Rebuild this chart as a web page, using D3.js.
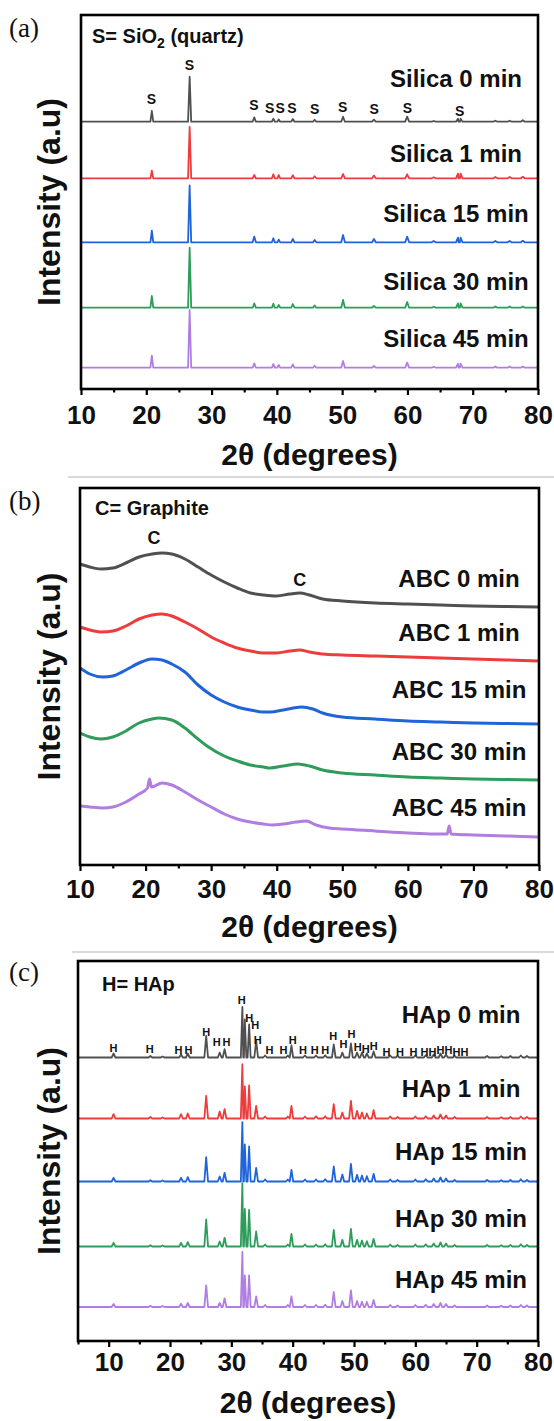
<!DOCTYPE html>
<html>
<head>
<meta charset="utf-8">
<script src="https://cdn.jsdelivr.net/npm/d3@7"></script>
<style>
  body { margin: 0; background: #fff; }
  svg text { font-family: "Liberation Sans", Arial, sans-serif; font-weight: bold; fill: #111; }
</style>
</head>
<body>
<div id="chart"></div>
<script>
// ---------------- data ----------------
const sampleTimes = ["0 min", "1 min", "15 min", "30 min", "45 min"];
const majorTicksA = [10, 20, 30, 40, 50, 60, 70, 80];
const minorTicksA = [15, 25, 35, 45, 55, 65, 75];
const majorTicksC = [10, 20, 30, 40, 50, 60, 70, 80];
const minorTicksC = [5, 15, 25, 35, 45, 55, 65, 75];

// (a) silica: quartz reflections (2θ), half widths and heights per milling time
const silicaPeaks  = [20.85, 26.64, 36.54, 39.46, 40.29, 42.45, 45.79, 50.14, 54.87, 59.96, 64.03, 67.74, 68.14, 73.47, 75.66, 77.67];
const silicaWidths = [0.22, 0.24, 0.25, 0.22, 0.22, 0.25, 0.25, 0.28, 0.28, 0.3, 0.3, 0.3, 0.3, 0.3, 0.3, 0.3];
const silica0  = [10.7, 45, 4.3, 3, 2.3, 2.7, 2, 5, 2, 5, 0.7, 3, 3, 1, 1, 1.5];
const silica1  = [7.7, 51.3, 3.3, 4, 3.3, 3, 2, 4.3, 2.7, 4, 1, 4.7, 4.7, 1.3, 1.3, 1.5];
const silica15 = [11.7, 57, 5.7, 4, 2.7, 3.3, 2.3, 7.3, 3.3, 5.7, 1.3, 4.7, 4.7, 1.3, 1.3, 1.5];
const silica30 = [11.7, 60, 4.3, 4, 2.7, 3.7, 2.3, 7.7, 1.7, 5.7, 1, 4.3, 4.3, 1.3, 1.3, 1.3];
const silica45 = [12, 57.7, 4.3, 3.7, 2.7, 3.3, 2, 6.7, 1.7, 5, 1, 4, 4, 1.3, 1.3, 1.3];
const silicaBase = [267.3, 210.7, 146.7, 81.3, 21.3];
const silicaLabelLevel = [310, 235.7, 175.7, 107.3, 50.7];
const sMarkPos   = [20.8, 26.6, 36.5, 38.9, 40.5, 42.3, 45.8, 50.1, 54.9, 60.0, 68.0];
const sMarkLevel = [289.7, 324, 284, 280.7, 280.7, 280.7, 280, 282.3, 279.7, 281.3, 278.3];

// (b) activated carbon: broad humps, [2θ, intensity]
const abc0 = [[10, 301], [11.5, 298], [13.2, 296], [15, 297], [17, 302], [19, 308], [21, 311], [22.5, 312], [24, 311], [26, 306], [28, 298], [30, 290], [32, 283], [34, 277], [36, 272], [38, 270], [40, 269], [42, 271], [43.5, 272], [45, 270], [47, 266], [50, 264], [55, 262], [60, 261], [65, 260], [70, 259], [75, 258.5], [80, 258]];
const abc1 = [[10, 238], [11.5, 235], [13.3, 233], [15, 234], [17, 239], [19, 246], [21, 250], [22.5, 251], [24, 249], [26, 243], [28, 236], [30, 228], [32, 222], [34, 217], [36, 214], [38, 212], [40, 212], [42, 214], [43.5, 215], [45, 213], [47, 211], [50, 210], [55, 209], [60, 208], [65, 207], [70, 206], [75, 205], [80, 204]];
const abc15 = [[10, 197], [11.5, 191], [13.5, 188], [15, 189], [17, 195], [19, 202], [21, 206], [22.5, 205], [24, 201], [26, 193], [28, 180], [30, 170], [32, 163], [34, 158], [36, 155], [38, 153], [39, 153], [41, 155], [43.8, 158], [45.5, 156], [47, 152], [50, 148], [55, 146], [60, 144], [65, 143], [70, 142], [75, 141.5], [80, 141]];
const abc30 = [[10, 132], [11.5, 128], [13.2, 126], [15, 128], [17, 134], [19, 142], [21, 146], [22, 147], [24, 145], [26, 137], [28, 126], [29.6, 118], [32, 109], [34, 104], [36, 100], [38, 98], [39, 97], [41, 99], [43.2, 101], [45, 99], [47, 95], [50, 92], [55, 90], [60, 88], [65, 87], [70, 86], [75, 85.5], [80, 85]];
const abc45 = [[10, 59], [11.5, 58], [13.5, 57], [15, 58], [17, 63], [19, 71], [20.3, 77], [20.6, 86], [20.9, 78], [22.5, 82], [24, 80], [26, 73], [28, 65], [30, 58], [32, 51], [34, 46], [36, 43], [38, 41], [39.3, 40], [41, 41], [43, 43], [44.5, 44], [46, 40], [48, 37], [50, 36], [55, 34], [60, 32], [64, 31], [66, 31], [66.3, 39], [66.6, 31], [70, 30], [75, 29], [80, 28]];
const abcLabelLevel = [286, 232, 175, 113, 57];
const cMarkPos   = [21.3, 43.5];
const cMarkLevel = [327, 285];

// (c) hydroxyapatite reflections
const hapPeaks  = [10.8, 16.8, 18.8, 21.8, 22.9, 25.9, 28.1, 28.9, 31.8, 32.2, 32.9, 34.05, 35.5, 39.2, 39.8, 42.0, 43.8, 45.3, 46.7, 48.1, 49.5, 50.5, 51.3, 52.1, 53.2, 55.9, 57.1, 60.0, 61.7, 63.0, 64.1, 65.0, 66.4, 71.7, 74.0, 75.5, 77.2, 78.2];
const hapWidths = [0.3, 0.3, 0.3, 0.3, 0.3, 0.3, 0.3, 0.3, 0.25, 0.25, 0.25, 0.3, 0.3, 0.28, 0.28, 0.3, 0.3, 0.3, 0.3, 0.3, 0.3, 0.3, 0.3, 0.3, 0.3, 0.3, 0.3, 0.3, 0.3, 0.3, 0.3, 0.3, 0.3, 0.3, 0.3, 0.3, 0.3, 0.3];
const hap0  = [4, 1.5, 1, 3, 4, 21.7, 5, 8.3, 50.7, 38, 33, 17, 2, 2, 12, 2, 2, 2.3, 13, 5, 14, 5, 5, 4, 6, 2, 1.5, 2, 2.3, 3, 4, 3, 1.5, 1.5, 1.3, 1.5, 2, 1.5];
const hap1  = [4.3, 1.5, 1, 4.3, 5, 22.7, 7, 9.3, 54.3, 32, 33, 12.7, 2, 2, 12.7, 2, 2.3, 2.3, 14.3, 6, 17.7, 7.7, 6, 5, 8.3, 2, 1.5, 2, 2.3, 3, 4, 3, 1.5, 1.5, 1.3, 1.5, 2, 1.5];
const hap15 = [3.7, 1.3, 1, 3.7, 4.3, 24.3, 5, 8.7, 59.3, 37, 35, 13.7, 2, 2, 11.7, 2, 2, 2.3, 15, 7, 17.7, 6.7, 6, 5.3, 7.7, 2, 1.5, 2, 2.3, 3, 4, 3, 1.5, 1.5, 1.3, 1.5, 2.3, 1.5];
const hap30 = [3.7, 1.3, 1, 3.7, 4.3, 27, 5, 8.7, 63.3, 37.7, 36.7, 15, 2, 2, 12.7, 2, 2, 2.3, 16.7, 6.7, 17.7, 6.7, 6, 5.3, 7.7, 2, 1.5, 2, 2.3, 3, 4, 3, 1.5, 1.5, 1.3, 1.5, 2.3, 1.5];
const hap45 = [3, 1.3, 1, 3.3, 4, 21.7, 4, 8.7, 55, 31.7, 31.7, 10.7, 2, 2, 10.7, 2, 2, 2.3, 15, 6, 16.7, 6, 5.3, 5, 7, 2, 1.5, 2, 2.3, 3, 4, 3, 1.5, 1.5, 1.3, 1.5, 2, 1.5];
const hapBase = [283.5, 222.5, 159.5, 94.5, 34];
const hapLabelLevel = [326, 252.7, 189.5, 122.7, 61];
const hMarkPos   = [10.8, 16.7, 21.4, 23.0, 25.9, 27.6, 29.2, 31.7, 32.9, 33.9, 34.3, 36.2, 38.5, 40.0, 41.7, 43.6, 45.3, 46.6, 48.3, 49.6, 50.6, 51.9, 53.2, 55.3, 57.5, 59.7, 61.5, 62.8, 64.1, 65.4, 66.7, 68.0];
const hMarkLevel = [292.9, 291.9, 290.9, 290.9, 308.5, 298.5, 298.5, 340.9, 322.9, 315.9, 300.9, 290.9, 290.9, 300.9, 290.9, 290.9, 290.9, 305.2, 296.9, 306.9, 293.5, 291.9, 295.2, 289.2, 289.2, 289.2, 289.2, 289.2, 290.9, 290.9, 289.2, 289.2];

// ---------------- styles / layout ----------------
const traceColors = ["#505050", "#ee3b3b", "#1f64d8", "#2e9c5a", "#b07ee0"];

const svg = d3.select("#chart")
    .append("svg")
    .attr("width", 554)
    .attr("height", 1421);

// turn a list of peaks into a stick-like polyline sitting on a flat baseline
function peakPoints(peaks, widths, heights, base, domain) {
    const pts = [[domain[0], base], [domain[1], base]];
    peaks.forEach((p, i) => {
        pts.push([p - widths[i], base], [p, base + heights[i]], [p + widths[i], base]);
    });
    return pts.sort((a, b) => a[0] - b[0]);
}

function drawPanel(p) {
    const x = d3.scaleLinear().domain(p.xDomain).range([p.left, p.right]);
    const y = d3.scaleLinear().domain([0, p.yMax]).range([p.bottom, p.top]);
    const g = svg.append("g");

    // traces
    const line = d3.line()
        .x(d => x(d[0]))
        .y(d => y(d[1]))
        .curve(p.curve || d3.curveLinear);

    p.traces.forEach((t, i) => {
        g.append("path")
            .datum(t)
            .attr("fill", "none")
            .attr("stroke", traceColors[i])
            .attr("stroke-width", p.lineWidth)
            .attr("stroke-linejoin", "round")
            .attr("d", line);
    });

    // frame
    g.append("rect")
        .attr("x", p.left)
        .attr("y", p.top)
        .attr("width", p.right - p.left)
        .attr("height", p.bottom - p.top)
        .attr("fill", "none")
        .attr("stroke", "#000")
        .attr("stroke-width", 2.6);

    // x axis, major ticks with labels
    const ax = g.append("g")
        .attr("transform", `translate(0,${p.bottom})`)
        .call(d3.axisBottom(x).tickValues(p.major).tickSize(6).tickPadding(p.tickPad).tickFormat(d3.format("d")));
    ax.select(".domain").remove();
    ax.selectAll("line").attr("stroke-width", 2.2);
    ax.selectAll("text")
        .style("font-size", "26px")
        .attr("fill", "#111");

    // minor ticks
    const mx = g.append("g")
        .attr("transform", `translate(0,${p.bottom})`)
        .call(d3.axisBottom(x).tickValues(p.minor).tickSize(3.5).tickFormat(""));
    mx.select(".domain").remove();
    mx.selectAll("line").attr("stroke-width", 2.2);

    // axis titles
    g.append("text")
        .attr("x", (p.left + p.right) / 2)
        .attr("y", p.bottom + p.titleGap)
        .attr("text-anchor", "middle")
        .style("font-size", "30px")
        .text("2θ (degrees)");

    g.append("text")
        .attr("transform", `translate(60,${(p.top + p.bottom) / 2}) rotate(-90)`)
        .attr("text-anchor", "middle")
        .style("font-size", "32px")
        .text("Intensity (a.u)");

    // panel letter
    g.append("text")
        .attr("x", 9)
        .attr("y", p.letterY)
        .style("font-family", "'Liberation Serif', 'Times New Roman', serif")
        .style("font-weight", "normal")
        .style("font-size", "27px")
        .text(p.letter);

    // phase note
    const note = g.append("text")
        .attr("x", p.noteX)
        .attr("y", p.noteY)
        .style("font-size", "20px");
    p.note.forEach(part => {
        note.append("tspan")
            .attr("dy", part.sub ? 5 : (part.after ? -5 : null))
            .style("font-size", part.sub ? "14px" : null)
            .text(part.t);
    });

    // sample labels
    sampleTimes.forEach((t, i) => {
        g.append("text")
            .attr("x", p.labelX)
            .attr("y", y(p.labelLevel[i]))
            .attr("dy", "0.35em")
            .attr("text-anchor", "middle")
            .style("font-size", "24px")
            .text(p.name + " " + t);
    });

    // peak markers
    p.markPos.forEach((m, i) => {
        g.append("text")
            .attr("x", x(m))
            .attr("y", y(p.markLevel[i]))
            .attr("dy", "0.35em")
            .attr("text-anchor", "middle")
            .style("font-size", p.markSize)
            .text(p.mark);
    });
}

// ---------------- panel (a) ----------------
drawPanel({
    left: 81, right: 538, top: 15, bottom: 389, yMax: 374,
    xDomain: [10, 80], major: majorTicksA, minor: minorTicksA,
    tickPad: 11, titleGap: 76, letter: "(a)", letterY: 37,
    note: [{t: "S= SiO"}, {t: "2", sub: true}, {t: " (quartz)", after: true}], noteX: 92, noteY: 43,
    name: "Silica", labelX: 456, labelLevel: silicaLabelLevel,
    mark: "S", markPos: sMarkPos, markLevel: sMarkLevel, markSize: "14px",
    lineWidth: 1.8,
    traces: [silica0, silica1, silica15, silica30, silica45].map((h, i) =>
        peakPoints(silicaPeaks, silicaWidths, h, silicaBase[i], [10, 80]))
});

// ---------------- panel (b) ----------------
drawPanel({
    left: 80, right: 539, top: 488, bottom: 865, yMax: 377,
    xDomain: [10, 80], major: majorTicksA, minor: minorTicksA,
    tickPad: 9, titleGap: 72, letter: "(b)", letterY: 510,
    note: [{t: "C= Graphite"}], noteX: 95, noteY: 515,
    name: "ABC", labelX: 459, labelLevel: abcLabelLevel,
    mark: "C", markPos: cMarkPos, markLevel: cMarkLevel, markSize: "18px",
    lineWidth: 3, curve: d3.curveMonotoneX,
    traces: [abc0, abc1, abc15, abc30, abc45]
});

// ---------------- panel (c) ----------------
drawPanel({
    left: 78, right: 538, top: 961, bottom: 1341, yMax: 380,
    xDomain: [5, 80], major: majorTicksC, minor: minorTicksC,
    tickPad: 6, titleGap: 72, letter: "(c)", letterY: 981,
    note: [{t: "H= HAp"}], noteX: 102, noteY: 991,
    name: "HAp", labelX: 461, labelLevel: hapLabelLevel,
    mark: "H", markPos: hMarkPos, markLevel: hMarkLevel, markSize: "11px",
    lineWidth: 1.8,
    traces: [hap0, hap1, hap15, hap30, hap45].map((h, i) =>
        peakPoints(hapPeaks, hapWidths, h, hapBase[i], [5, 80]))
});

// thin separators between panels
[[68, 477], [72, 952]].forEach(s => {
    svg.append("line")
        .attr("x1", s[0]).attr("x2", 554)
        .attr("y1", s[1]).attr("y2", s[1])
        .attr("stroke", "#b5b5b5")
        .attr("stroke-width", 1);
});
</script>
</body>
</html>
